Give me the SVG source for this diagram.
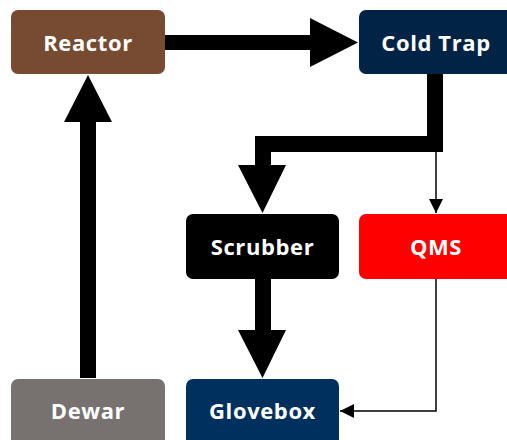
<svg xmlns="http://www.w3.org/2000/svg" width="507" height="440" viewBox="0 0 507 440">
<defs>
<style>
.lbl{font-family:"Open Sans","Noto Sans","DejaVu Sans",sans-serif;font-weight:bold;font-size:22px;letter-spacing:0.6px;fill:#fff;text-anchor:middle}
.thin{fill:none;stroke:#000;stroke-width:1.5}
</style>
<marker id="ah2" viewBox="0 0 14 14" refX="14" refY="7" markerWidth="14" markerHeight="14" markerUnits="userSpaceOnUse" orient="auto"><path d="M0,0 L14,7 L0,14 Z" fill="#000"/></marker>
</defs>
<rect width="507" height="440" fill="#fff"/>
<g id="connectors">
<polygon points="165,35 310,35 310,18 358,42.5 310,67 310,50 165,50" fill="#000"/>
<polygon points="427,74 443,74 443,152 271,152 271,165 286,165 262.5,213 238,165 255,165 255,136 427,136" fill="#000"/>
<polygon points="255,279 271,279 271,330 286,330 262.5,378 238,330 255,330" fill="#000"/>
<polygon points="80,378 96,378 96,122 112,122 88,75 64,122 80,122" fill="#000"/>
<path class="thin" d="M436,152 V213" marker-end="url(#ah2)"/>
<path class="thin" d="M436,279 V411 H340" marker-end="url(#ah2)"/>
</g>
<g id="reactor"><rect x="11" y="10" width="154" height="64" rx="7" fill="#774b31"/><text class="lbl" x="88" y="51">Reactor</text></g>
<g id="coldtrap"><rect x="359" y="10" width="154" height="64" rx="7" fill="#012346"/><text class="lbl" x="436" y="51">Cold Trap</text></g>
<g id="scrubber"><rect x="186" y="214" width="153" height="65" rx="7" fill="#000"/><text class="lbl" x="262.5" y="255">Scrubber</text></g>
<g id="qms"><rect x="359" y="214" width="154" height="65" rx="7" fill="#ff0000"/><text class="lbl" x="436" y="255">QMS</text></g>
<g id="dewar"><rect x="11" y="379" width="154" height="70" rx="7" fill="#77726f"/><text class="lbl" x="88" y="419">Dewar</text></g>
<g id="glovebox"><rect x="186" y="379" width="153" height="70" rx="7" fill="#00305e"/><text class="lbl" x="262.5" y="419">Glovebox</text></g>
</svg>
